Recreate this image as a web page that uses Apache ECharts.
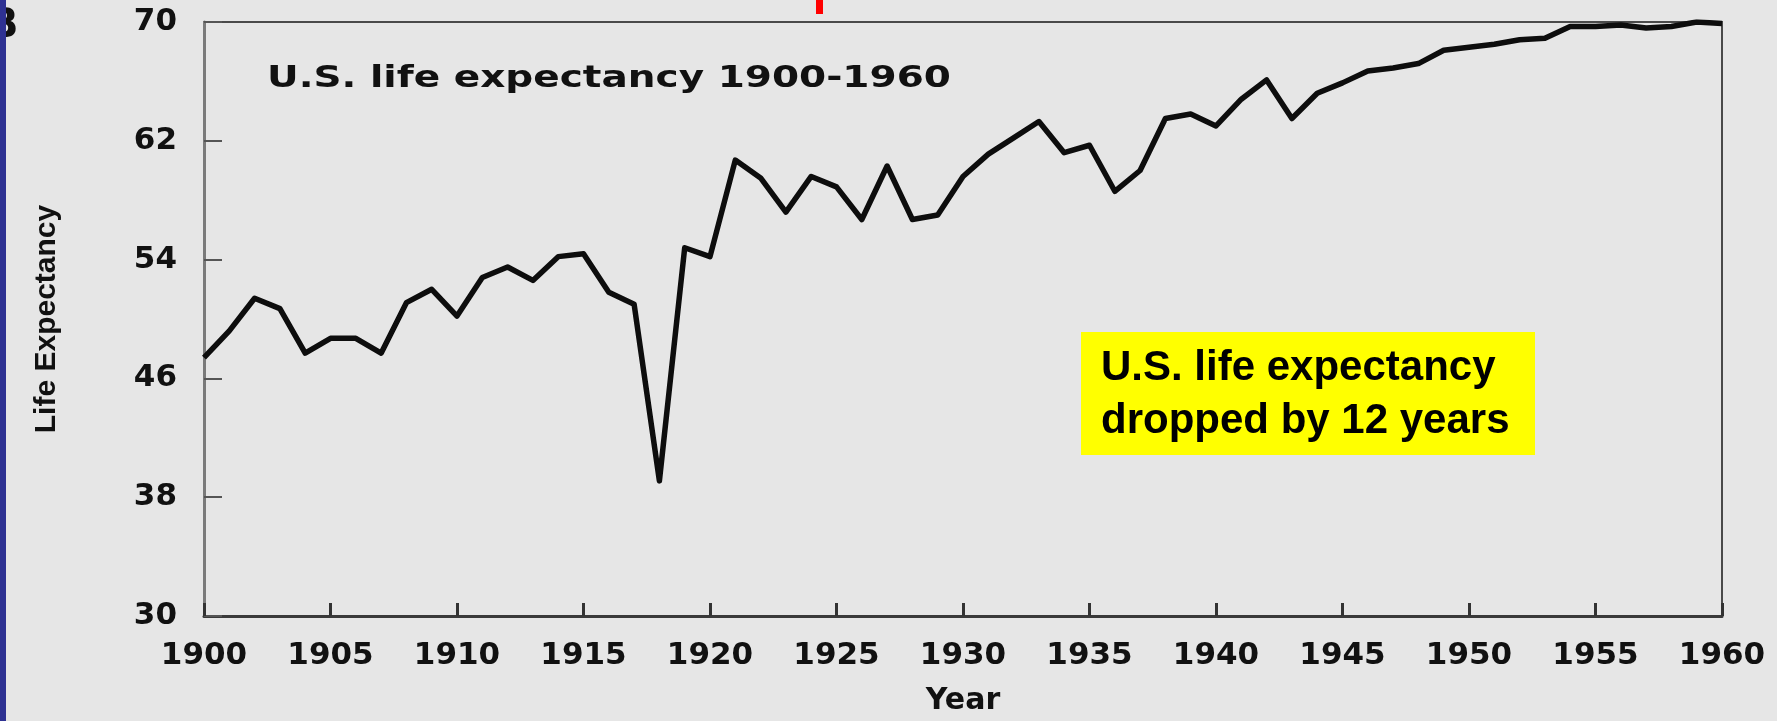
<!DOCTYPE html>
<html>
<head>
<meta charset="utf-8">
<title>U.S. life expectancy 1900-1960</title>
<script src="https://cdn.jsdelivr.net/npm/echarts@6.0.0/dist/echarts.min.js"></script>
<style>
  html, body { margin: 0; padding: 0; background: #e6e6e6; }
  #chart { width: 1777px; height: 721px; }
</style>
</head>
<body>
<div id="chart"></div>
<script>
// years on the x axis
var years = [
  1900, 1901, 1902, 1903, 1904, 1905, 1906, 1907, 1908, 1909,
  1910, 1911, 1912, 1913, 1914, 1915, 1916, 1917, 1918, 1919,
  1920, 1921, 1922, 1923, 1924, 1925, 1926, 1927, 1928, 1929,
  1930, 1931, 1932, 1933, 1934, 1935, 1936, 1937, 1938, 1939,
  1940, 1941, 1942, 1943, 1944, 1945, 1946, 1947, 1948, 1949,
  1950, 1951, 1952, 1953, 1954, 1955, 1956, 1957, 1958, 1959,
  1960
]
// life expectancy, one per year
var lifeExpectancy = [
  47.4, 49.2, 51.4, 50.7, 47.7, 48.7, 48.7, 47.7, 51.1, 52.0,
  50.2, 52.8, 53.5, 52.6, 54.2, 54.4, 51.8, 51.0, 39.1, 54.8,
  54.2, 60.7, 59.5, 57.2, 59.6, 58.9, 56.7, 60.3, 56.7, 57.0,
  59.6, 61.1, 62.2, 63.3, 61.2, 61.7, 58.6, 60.0, 63.5, 63.8,
  63.0, 64.8, 66.1, 63.5, 65.2, 65.9, 66.7, 66.9, 67.2, 68.1,
  68.3, 68.5, 68.8, 68.9, 69.7, 69.7, 69.8, 69.6, 69.7, 70.0,
  69.9
]
var xMin = 1900
var xMax = 1960
var xStep = 5
var yMin = 30
var yMax = 70
var yStep = 8
var chartTitle = 'U.S. life expectancy 1900-1960'
var noteText = 'U.S. life expectancy\ndropped by 12 years'

var chart = echarts.init(document.getElementById('chart'))

var seriesData = years.map(function (y, i) {
  return [y, lifeExpectancy[i]]
})

var wideFont = 'DejaVu Sans'
var arialFont = 'Liberation Sans, Arial, sans-serif'

chart.setOption({
  backgroundColor: '#e6e6e6',
  animation: false,
  grid: {
    left: 204,
    right: 55,
    top: 22,
    bottom: 102,
    show: true,
    borderColor: '#4a4a4a',
    borderWidth: 2
  },
  xAxis: {
    type: 'value',
    min: xMin,
    max: xMax,
    interval: xStep,
    name: 'Year',
    nameLocation: 'middle',
    nameGap: 70,
    nameTextStyle: {
      fontFamily: wideFont,
      fontWeight: 'bold',
      fontSize: 30,
      color: '#111'
    },
    axisLine: { show: true, onZero: false, lineStyle: { color: '#3a3a3a', width: 3 } },
    axisTick: { show: true, inside: true, length: 13, lineStyle: { color: '#333', width: 3 } },
    axisLabel: {
      margin: 24,
      fontFamily: wideFont,
      fontWeight: 'bold',
      fontSize: 31,
      color: '#111',
      formatter: function (v) { return String(v) }
    },
    splitLine: { show: false }
  },
  yAxis: {
    type: 'value',
    min: yMin,
    max: yMax,
    interval: yStep,
    name: 'Life Expectancy',
    nameLocation: 'middle',
    nameRotate: 90,
    nameGap: 142,
    nameTextStyle: {
      fontFamily: arialFont,
      fontWeight: 'bold',
      fontSize: 30,
      color: '#111'
    },
    axisLine: { show: true, lineStyle: { color: '#7a7a7a', width: 3 } },
    axisTick: { show: true, inside: true, length: 18, lineStyle: { color: '#555', width: 2 } },
    axisLabel: {
      margin: 27,
      fontFamily: wideFont,
      fontWeight: 'bold',
      fontSize: 31,
      color: '#111'
    },
    splitLine: { show: false }
  },
  series: [{
    name: 'Life expectancy',
    type: 'line',
    data: seriesData,
    symbol: 'none',
    lineStyle: { color: '#0d0d0d', width: 5.5, join: 'round' },
    z: 3
  }],
  graphic: [
    {
      // chart title inside the frame, stretched like the scan
      type: 'text',
      x: 267,
      y: 79,
      scaleX: 1.3,
      style: {
        text: chartTitle,
        fontFamily: wideFont,
        fontWeight: 'bold',
        fontSize: 30,
        fill: '#111',
        verticalAlign: 'middle'
      },
      z: 10
    },
    {
      // yellow callout
      type: 'group',
      z: 20,
      children: [
        {
          type: 'rect',
          shape: { x: 1081, y: 332, width: 454, height: 123 },
          style: { fill: '#ffff00' }
        },
        {
          type: 'text',
          x: 1101,
          y: 342,
          style: {
            text: noteText,
            fontFamily: arialFont,
            fontWeight: 'bold',
            fontSize: 42,
            lineHeight: 53,
            fill: '#000',
            verticalAlign: 'top'
          }
        }
      ]
    },
    {
      // panel letter, mostly hidden by the blue edge
      type: 'text',
      x: -12,
      y: 7,
      style: {
        text: 'B',
        fontFamily: wideFont,
        fontWeight: 'bold',
        fontSize: 40,
        fill: '#111',
        verticalAlign: 'top'
      },
      z: 30
    },
    {
      type: 'rect',
      shape: { x: 0, y: 0, width: 6, height: 721 },
      style: { fill: '#2e3192' },
      z: 40
    },
    {
      type: 'rect',
      shape: { x: 816, y: 0, width: 7, height: 14 },
      style: { fill: '#ff0000' },
      z: 40
    }
  ]
})
</script>
</body>
</html>
